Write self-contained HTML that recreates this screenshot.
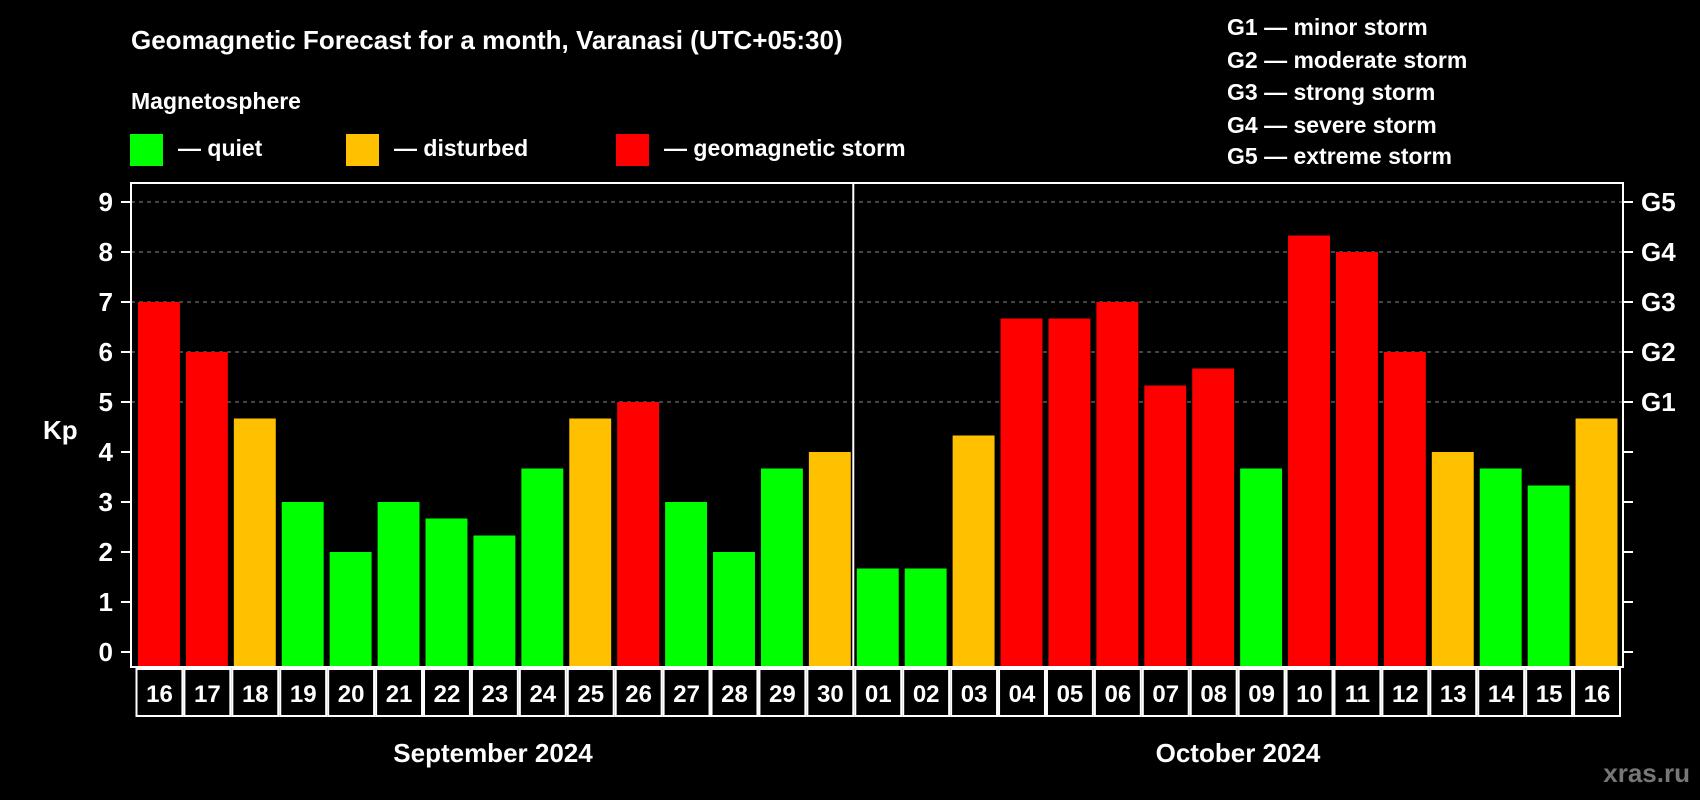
<!DOCTYPE html>
<html><head><meta charset="utf-8"><style>
html,body{margin:0;padding:0;background:#000;}
svg{display:block;font-family:"Liberation Sans",Arial,sans-serif;font-weight:bold;}
</style></head><body>
<svg id="chart" width="1700" height="800" viewBox="0 0 1700 800">
<rect x="0" y="0" width="1700" height="800" fill="#000"/>
<text x="131" y="49" fill="#fff" font-size="26">Geomagnetic Forecast for a month, Varanasi (UTC+05:30)</text>
<text x="131" y="109" fill="#fff" font-size="23">Magnetosphere</text>
<g><rect x="130" y="134" width="33" height="32" fill="#00ff00"/><text x="178" y="156" fill="#fff" font-size="23">— quiet</text></g>
<g><rect x="346" y="134" width="33" height="32" fill="#ffc000"/><text x="394" y="156" fill="#fff" font-size="23">— disturbed</text></g>
<g><rect x="616" y="134" width="33" height="32" fill="#ff0000"/><text x="664" y="156" fill="#fff" font-size="23">— geomagnetic storm</text></g>
<g fill="#fff" font-size="23">
<text x="1227" y="35">G1 — minor storm</text>
<text x="1227" y="68">G2 — moderate storm</text>
<text x="1227" y="100">G3 — strong storm</text>
<text x="1227" y="133">G4 — severe storm</text>
<text x="1227" y="164">G5 — extreme storm</text>
</g>
<text x="43" y="439" fill="#fff" font-size="26">Kp</text>
<g id="grid"></g>
<g id="bars"></g>
<g id="axes"></g>
<g id="dates"></g>
<text x="493" y="762" fill="#fff" font-size="26" text-anchor="middle">September 2024</text>
<text x="1238" y="762" fill="#fff" font-size="26" text-anchor="middle">October 2024</text>
<text x="1690" y="782" fill="#777" font-size="26" text-anchor="end">xras.ru</text>
</svg>
<script>
const days = ["16","17","18","19","20","21","22","23","24","25","26","27","28","29","30","01","02","03","04","05","06","07","08","09","10","11","12","13","14","15","16"];
const kpValues = [7,6,4.67,3,2,3,2.67,2.33,3.67,4.67,5,3,2,3.67,4,1.67,1.67,4.33,6.67,6.67,7,5.33,5.67,3.67,8.33,8,6,4,3.67,3.33,4.67];
const yTicks = [0,1,2,3,4,5,6,7,8,9];
const gLabels = ["","","","","","G1","G2","G3","G4","G5"];
const NS="http://www.w3.org/2000/svg";
const L=131,R=1623,T=183,B=667,DX0=135.5,PITCH=(1621-135.5)/31;
function y(v){return 652-50*v;}
function x(i){return DX0+i*PITCH;}
function mk(tag,attrs,parent){const e=document.createElementNS(NS,tag);for(const k in attrs)e.setAttribute(k,attrs[k]);parent.appendChild(e);return e;}
const grid=document.getElementById('grid'),bars=document.getElementById('bars'),axes=document.getElementById('axes'),dates=document.getElementById('dates');
yTicks.forEach((t,i)=>{
  if(t>=5){const g=mk('line',{x1:L,x2:R,y1:y(t),y2:y(t),stroke:'#888','stroke-width':1,'stroke-dasharray':'4,4'},grid);
  
  }
  const tl=mk('line',{x1:L-10,x2:L,y1:y(t),y2:y(t),stroke:'#fff','stroke-width':2},axes);
  
  
  const tr=mk('line',{x1:R,x2:R+10,y1:y(t),y2:y(t),stroke:'#fff','stroke-width':2},axes);
  
  
  const lab=mk('text',{x:L-18,y:y(t)+9,fill:'#fff','font-size':26,'text-anchor':'end'},axes);
  lab.textContent=t;
  
  
  if(gLabels[i]){const gl=mk('text',{x:1641,y:y(t)+9,fill:'#fff','font-size':26},axes);
  gl.textContent=gLabels[i];
  
  }
});
kpValues.forEach((v,i)=>{
  const c=v<4?'#00ff00':(v<5?'#ffc000':'#ff0000');
  const b=mk('rect',{x:x(i)+2.5,y:y(v),width:PITCH-6,height:y(0)+15-y(v),fill:c},bars);
  
  
  const d=mk('rect',{x:x(i)+1,y:669,width:PITCH-2,height:47,fill:'none',stroke:'#fff','stroke-width':2},dates);
  
  
  const dt=mk('text',{x:x(i)+PITCH/2,y:702,fill:'#fff','font-size':24,'text-anchor':'middle'},dates);
  dt.textContent=days[i];
  
  
});
const box=mk('rect',{x:L,y:T,width:R-L,height:B-T,fill:'none',stroke:'#fff','stroke-width':2},axes);


const sep=mk('line',{x1:x(15)-1,x2:x(15)-1,y1:T,y2:B,stroke:'#fff','stroke-width':2},axes);


</script>
</body></html>
